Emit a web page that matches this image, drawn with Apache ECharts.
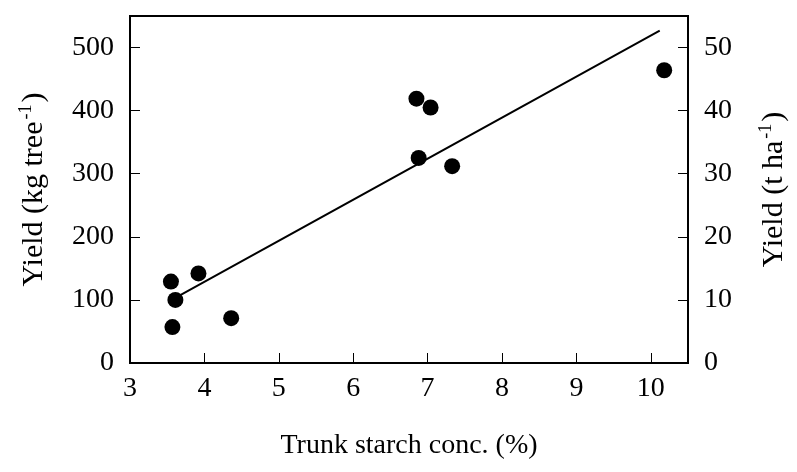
<!DOCTYPE html>
<html>
<head>
<meta charset="utf-8">
<script src="https://cdn.jsdelivr.net/npm/echarts@6/dist/echarts.min.js"></script>
<style>
  html, body { margin: 0; padding: 0; background: #fff; }
  #chart { width: 797px; height: 472px; }
</style>
</head>
<body>
<div id="chart"></div>
<script>
// starch (%) vs yield (kg per tree)
var starch = [3.55, 3.92, 3.61, 3.57, 4.36, 6.85, 7.04, 6.88, 7.33, 10.18];
var yieldKg = [129, 142, 100, 57, 71, 419, 405, 325, 312, 464];
// fitted line end points
var fitX = [3.67, 10.12];
var fitY = [107, 527];

var leftTicks = [0, 100, 200, 300, 400, 500];
var rightTicks = [0, 10, 20, 30, 40, 50];

var points = starch.map(function (x, i) { return [x, yieldKg[i]]; });
var fitLine = fitX.map(function (x, i) { return [x, fitY[i]]; });

var font = '"Liberation Serif", "Times New Roman", serif';
var supRich = {
  sup: { fontSize: 18, fontFamily: font, color: '#000', verticalAlign: 'top', padding: [0, 2, 16, 2] }
};

var chart = echarts.init(document.getElementById('chart'));
chart.setOption({
  animation: false,
  backgroundColor: '#fff',
  textStyle: { fontFamily: font, color: '#000' },
  grid: {
    left: 130, right: 104, top: 16, bottom: 109,
    show: true, borderColor: '#000', borderWidth: 2, backgroundColor: 'transparent'
  },
  xAxis: {
    type: 'value', min: 3, max: 10.5, interval: 1,
    axisLine: { show: true, lineStyle: { color: '#000', width: 2 } },
    axisTick: { show: true, inside: true, length: 10, lineStyle: { color: '#000', width: 1 } },
    axisLabel: { fontSize: 28, fontFamily: font, color: '#000', margin: 12,
      formatter: function (v) { return v === 10.5 ? '' : v; } },
    splitLine: { show: false },
    name: 'Trunk starch conc. (%)', nameLocation: 'middle', nameGap: 69,
    nameTextStyle: { fontSize: 28, fontFamily: font, color: '#000' }
  },
  yAxis: [{
    type: 'value', min: 0, max: 550, interval: 100,
    axisLine: { show: true, lineStyle: { color: '#000', width: 2 } },
    axisTick: { show: true, inside: true, length: 10, lineStyle: { color: '#000', width: 1 } },
    axisLabel: { fontSize: 28, fontFamily: font, color: '#000', margin: 16,
      formatter: function (v) { return leftTicks.indexOf(v) >= 0 ? v : ''; } },
    splitLine: { show: false },
    name: 'Yield (kg tree{sup|-1})', nameLocation: 'middle', nameGap: 79, nameRotate: 90,
    nameTextStyle: { fontSize: 30, fontFamily: font, color: '#000', rich: supRich }
  }, {
    type: 'value', min: 0, max: 55, interval: 10, position: 'right',
    axisLine: { show: true, lineStyle: { color: '#000', width: 2 } },
    axisTick: { show: true, inside: true, length: 10, lineStyle: { color: '#000', width: 1 } },
    axisLabel: { fontSize: 28, fontFamily: font, color: '#000', margin: 16,
      formatter: function (v) { return rightTicks.indexOf(v) >= 0 ? v : ''; } },
    splitLine: { show: false },
    name: 'Yield (t ha{sup|-1})', nameLocation: 'middle', nameGap: 69, nameRotate: 90,
    nameTextStyle: { fontSize: 30, fontFamily: font, color: '#000', rich: supRich }
  }],
  series: [{
    type: 'line', data: fitLine, yAxisIndex: 0, symbol: 'none',
    lineStyle: { color: '#000', width: 2 }, z: 2
  }, {
    type: 'scatter', data: points, yAxisIndex: 0, symbol: 'circle', symbolSize: 16,
    itemStyle: { color: '#000', opacity: 1 }, z: 3
  }]
});
</script>
</body>
</html>
